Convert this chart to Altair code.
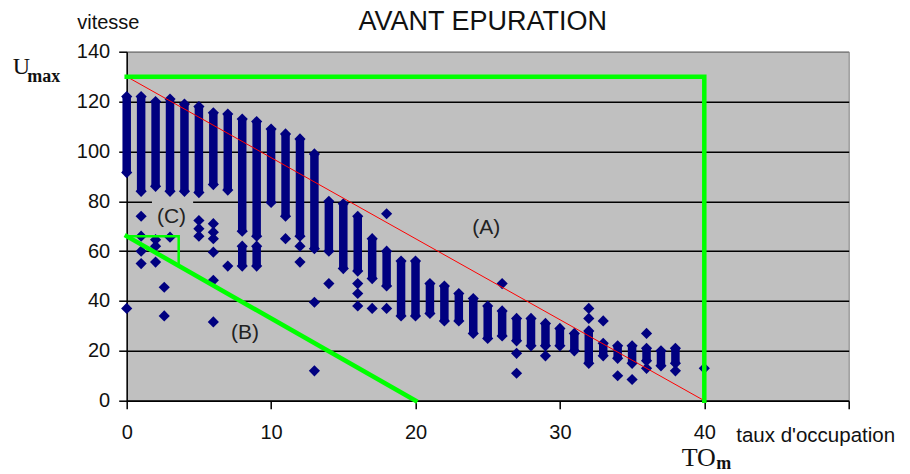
import altair as alt
import pandas as pd

# ---- data ----
# dense columns of points: integer occupation rate, top and bottom speed of each column
band_x = list(range(39))
band_hi = [122, 122, 120, 121, 119, 118, 115.5, 115, 113, 112, 109, 107, 105, 99, 80, 79, 74, 65, 60, 56,
           56, 47, 46, 43, 41, 38, 36, 33, 33, 31, 29, 27, 28, 23, 22, 22, 21, 20, 21]
band_lo = [91.5, 84, 86, 84, 84, 83.5, 86.7, 84.5, 68, 66, 79.5, 74, 66, 61, 60, 53, 52, 49, 46, 34,
           34, 35, 32, 32, 27, 25, 26, 24, 22, 22, 22, 20, 15, 18, 17, 15, 16, 14, 15]
# second (lower) part of split columns
split_x = [8, 9]
split_hi = [62, 62]
split_lo = [54, 54]
# isolated points
pt_x = [0, 1, 1, 1, 1, 2, 2, 2, 2.6, 2.6, 3, 5, 5, 5, 6, 6, 6, 6, 6, 6, 7, 11, 12, 12, 13, 13, 14,
        16, 16, 16, 17, 18, 18, 26, 27, 27, 29, 32, 32, 33, 34, 35, 36, 36, 38, 40]
pt_y = [37, 74, 66, 60, 55, 64.6, 62, 55.6, 45.5, 34, 65.6, 72.3, 69, 66, 71, 67.6, 65, 59.6, 48.3, 31.6,
        54, 65, 62, 55.6, 39.5, 12, 47, 47, 43, 38, 37, 75, 37, 47, 19, 11, 18, 37, 33, 32, 10, 8.5,
        27, 13, 12, 13]

# delimiting lines
green_seg = ["A", "A", "A", "B", "B", "C", "C", "C"]
green_x = [0, 40, 40, 0, 20, 0, 3.6, 3.6]
green_y = [130, 130, 0, 66, 0, 66, 66, 54.1]
green_w = [4.5, 4.5, 4.5, 4.5, 4.5, 2.5, 2.5, 2.5]
red_x = [0, 40]
red_y = [130, 0]

# zone labels
zone_lab = ["(A)", "(B)", "(C)"]
zone_x = [24.9, 8.2, 3.1]
zone_y = [69.3, 27.3, 73.6]

x_ticks = [0, 10, 20, 30, 40, 50]
y_ticks = [0, 20, 40, 60, 80, 100, 120, 140]

# ---- tables ----
bands = pd.DataFrame({"x": band_x + split_x, "hi": band_hi + split_hi, "lo": band_lo + split_lo})
pts = pd.DataFrame({
    "x": list(bands["x"]) * 2 + pt_x,
    "y": list(bands["hi"]) + list(bands["lo"]) + pt_y,
})
green = pd.DataFrame({"seg": green_seg, "o": list(range(len(green_x))), "x": green_x, "y": green_y, "w": green_w})
red = pd.DataFrame({"x": red_x, "y": red_y})
zones = pd.DataFrame({"lab": zone_lab, "x": zone_x, "y": zone_y})
cbox = pd.DataFrame({"x": [1.75], "x2": [4.6], "y": [69], "y2": [81.5]})

FONT = "Liberation Sans"
NAVY = "#000080"
BG = "#C0C0C0"

xs = alt.Scale(domain=[0, 50], nice=False, zero=False)
ys = alt.Scale(domain=[0, 140], nice=False, zero=False)

x_axis = alt.Axis(values=x_ticks, grid=False, title="taux d'occupation",
                  labelExpr="datum.value == 50 ? '' : datum.label",
                  domainColor="black", domainWidth=1.5, tickColor="black", tickWidth=1.5, tickSize=8,
                  labelFont=FONT, labelFontSize=20, labelColor="#111", labelPadding=14, labelFlush=False,
                  labelOverlap=False,
                  titleFont=FONT, titleFontSize=20.5, titleFontWeight="normal", titleColor="#111",
                  titleX=609, titleY=41, titleAlign="left", titleBaseline="alphabetic", titleAngle=0)
y_axis = alt.Axis(values=y_ticks, grid=True,
                  gridColor={"condition": {"test": "datum.value == 140", "value": "#808080"}, "value": "black"},
                  gridWidth=1.6, title="vitesse",
                  domainColor="black", domainWidth=1.5, tickColor="black", tickWidth=1.5, tickSize=8,
                  labelFont=FONT, labelFontSize=20, labelColor="#111", labelPadding=9, labelFlush=False,
                  labelOverlap=False,
                  titleFont=FONT, titleFontSize=20, titleFontWeight="normal", titleColor="#111",
                  titleX=-50, titleY=-23, titleAlign="left", titleBaseline="alphabetic", titleAngle=0)

box = alt.Chart(cbox).mark_rect(color=BG, opacity=1).encode(
    x=alt.X("x:Q", scale=xs, axis=x_axis), x2="x2", y=alt.Y("y:Q", scale=ys, axis=y_axis), y2="y2")

rules = alt.Chart(bands).mark_rule(color=NAVY, strokeWidth=8.5).encode(
    x=alt.X("x:Q", scale=xs), y=alt.Y("lo:Q", scale=ys), y2="hi")

points = alt.Chart(pts).mark_point(shape="diamond", filled=True, size=125, color=NAVY, opacity=1).encode(
    x=alt.X("x:Q", scale=xs), y=alt.Y("y:Q", scale=ys))

red_line = alt.Chart(red).mark_line(color="#FF0000", strokeWidth=1).encode(
    x=alt.X("x:Q", scale=xs), y=alt.Y("y:Q", scale=ys))

green_lines = alt.Chart(green).mark_line(color="#00FF00", strokeCap="square", strokeJoin="miter").encode(
    x=alt.X("x:Q", scale=xs), y=alt.Y("y:Q", scale=ys), detail="seg:N", order="o:Q",
    strokeWidth=alt.StrokeWidth("w:Q", scale=None))

zone_text = alt.Chart(zones).mark_text(font=FONT, fontSize=21, color="#222", baseline="middle").encode(
    x=alt.X("x:Q", scale=xs), y=alt.Y("y:Q", scale=ys), text="lab:N")

title_txt = alt.Chart(pd.DataFrame({"t": ["AVANT EPURATION"]})).mark_text(
    font=FONT, fontSize=27, align="center", baseline="alphabetic", color="#111").encode(
    x=alt.value(356), y=alt.value(-21.5), text="t:N")
u_txt = alt.Chart(pd.DataFrame({"t": ["U"]})).mark_text(
    font="Liberation Serif", fontSize=24, align="left", baseline="alphabetic", color="#111").encode(
    x=alt.value(-114), y=alt.value(22.5), text="t:N")
max_txt = alt.Chart(pd.DataFrame({"t": ["max"]})).mark_text(
    font="Liberation Serif", fontSize=18, fontWeight="bold", align="left", baseline="alphabetic",
    color="#111").encode(x=alt.value(-99.5), y=alt.value(30.5), text="t:N")
to_txt = alt.Chart(pd.DataFrame({"t": ["TO"]})).mark_text(
    font="Liberation Serif", fontSize=26, align="left", baseline="alphabetic", color="#111").encode(
    x=alt.value(555), y=alt.value(414), text="t:N")
m_txt = alt.Chart(pd.DataFrame({"t": ["m"]})).mark_text(
    font="Liberation Serif", fontSize=18, fontWeight="bold", align="left", baseline="alphabetic",
    color="#111").encode(x=alt.value(589.5), y=alt.value(417.5), text="t:N")

chart = alt.layer(
    box, rules, points, red_line, green_lines, zone_text, title_txt, u_txt, max_txt, to_txt, m_txt
).properties(
    width=722, height=349,
    autosize="none",
    background="white",
    padding={"left": 118.7, "top": 43.7, "right": 53.3, "bottom": 73.3},
).configure_view(
    fill=BG, stroke="#808080", strokeWidth=1
)

chart.save("out.html", embed_options={"renderer": "svg", "actions": False})
